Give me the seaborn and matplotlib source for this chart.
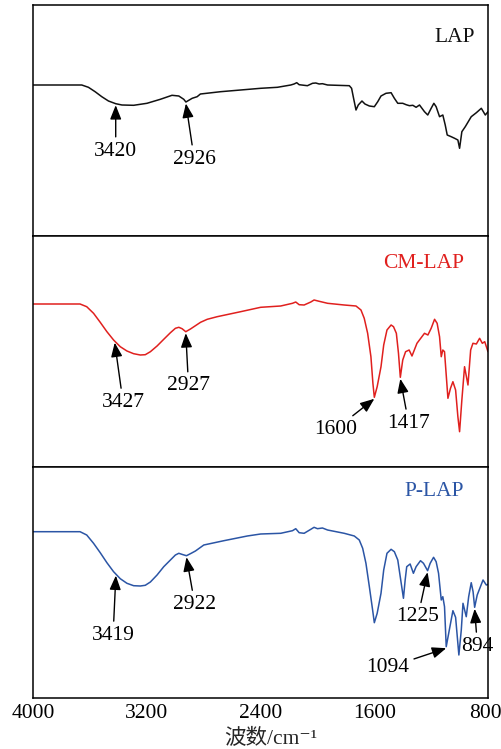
import numpy as np
import pandas as pd
import matplotlib
matplotlib.use("Agg")
import matplotlib.pyplot as plt
import matplotlib.transforms as mtransforms
import seaborn as sns

# ---- FTIR spectra (wavenumber in cm-1, relative transmittance in arbitrary units) ----
lap_wn = [4000, 3659, 3612, 3565, 3518, 3471, 3420, 3376, 3294, 3200, 3106, 3024,
          2976, 2941, 2926, 2882, 2847, 2824, 2682, 2400, 2282, 2188, 2165, 2146,
          2129, 2094, 2071, 2035, 2012, 1988, 1965, 1929, 1776, 1760, 1746, 1729,
          1713, 1687, 1666, 1635, 1600, 1576, 1553, 1518, 1482, 1459, 1435, 1400,
          1376, 1353, 1329, 1306, 1282, 1247, 1224, 1200, 1181, 1165, 1141, 1118,
          1101, 1087, 1059, 1035, 1012, 1000, 984, 960, 918, 882, 847, 819, 800]
lap_t = [151, 151, 148.7, 144.3, 139.3, 135, 132.3, 131, 130.7, 132.7, 136.7, 140.7,
         140, 136.7, 134, 137.7, 139.3, 142, 144.3, 147.7, 148.7, 151, 152, 153.3,
         151.3, 150.7, 150.3, 152.7, 153, 152, 152.3, 151, 150.3, 147.7, 137.7, 126,
         131, 135, 132, 130, 129.3, 134.3, 140, 142.7, 143.3, 137.7, 132.7, 132.7,
         131.3, 130.3, 130.7, 128.7, 131, 124.3, 121, 127.7, 132.7, 129.3, 119.3, 121,
         111, 101, 99.3, 97.7, 96, 87.7, 104.3, 109.3, 119.3, 123.3, 127.7, 121, 124.3]

cm_wn = [4000, 3671, 3624, 3576, 3529, 3482, 3435, 3388, 3341, 3294, 3247, 3212,
         3176, 3129, 3082, 3035, 3000, 2976, 2953, 2927, 2894, 2859, 2823, 2776,
         2706, 2541, 2400, 2259, 2176, 2153, 2129, 2094, 2047, 2024, 1988, 1929,
         1812, 1729, 1694, 1671, 1647, 1624, 1610, 1600, 1580, 1553, 1534, 1511,
         1482, 1465, 1445, 1430, 1417, 1400, 1380, 1355, 1335, 1300, 1247, 1223,
         1200, 1176, 1158, 1141, 1129, 1118, 1106, 1082, 1064, 1047, 1028, 1012,
         1000, 984, 965, 941, 922, 906, 882, 859, 840, 823, 800]
cm_t = [163, 163, 160.3, 153.7, 144.7, 135.3, 127, 120.3, 116, 113.3, 112, 112.3,
        115.3, 121, 127.7, 134.3, 138.7, 139.7, 138.3, 135.3, 138, 141.3, 144.7, 147.7,
        150.3, 155.3, 159.7, 161, 163.7, 165, 162.3, 162, 165, 167, 165.7, 163.7,
        162, 161, 157, 148.7, 133.7, 110.3, 83.7, 69.7, 80.3, 100.3, 122, 137,
        142, 140.3, 133.7, 113.7, 89.7, 107, 115.3, 117, 111, 123.7, 133.7, 132,
        138.7, 147.7, 143.7, 130.3, 110.3, 117, 115.3, 68.7, 78.7, 85.3, 77, 50.3,
        35.3, 67, 100.3, 82, 117, 123.7, 123, 128.7, 123.7, 125.3, 115.3]

p_wn = [4000, 3671, 3624, 3576, 3529, 3482, 3435, 3388, 3341, 3294, 3247, 3212,
        3176, 3129, 3082, 3035, 3000, 2976, 2946, 2922, 2889, 2859, 2800, 2659,
        2494, 2400, 2259, 2176, 2153, 2129, 2094, 2047, 2024, 2000, 1965, 1929,
        1812, 1741, 1706, 1682, 1659, 1635, 1612, 1600, 1580, 1553, 1534, 1511,
        1482, 1459, 1435, 1416, 1395, 1383, 1372, 1348, 1325, 1306, 1275, 1254,
        1225, 1207, 1183, 1165, 1148, 1129, 1118, 1106, 1094, 1068, 1047, 1028,
        1005, 988, 976, 953, 936, 918, 905, 894, 876, 835, 812, 800]
p_t = [166.3, 166.3, 163, 154.7, 145.3, 135.3, 126.3, 119.3, 114.7, 112.3, 112, 112.7,
       116, 123, 131.3, 138, 143, 144.7, 143.3, 142.3, 144.7, 147, 153, 157.3,
       162, 164, 164.7, 167.3, 169.3, 165.3, 164.7, 168.7, 170.7, 169.3, 170, 168,
       164.7, 162, 158, 149.7, 134.7, 111.3, 88, 75.3, 84.7, 104.7, 128, 144.7,
       148.7, 146.3, 138, 119.7, 99.7, 118, 131.3, 134, 124.7, 131.3, 137.3, 134.7,
       127.3, 134.7, 140.7, 136.3, 124.7, 98, 101.3, 91.3, 51.3, 71.3, 87.3, 80.7,
       43, 68, 94.7, 81.3, 101.3, 115.3, 106.3, 90.7, 103, 118, 113, 113.6]

sample_names = ["LAP", "CM-LAP", "P-LAP"]
line_colors = ["#111111", "#E0201E", "#2B55A5"]

# Marked bands per spectrum: wavenumber labels
lap_marks = [3420, 2926]
cm_marks = [3427, 2927, 1600, 1417]
p_marks = [3419, 2922, 1225, 1094, 894]

# Label offsets from the arrow tip (points)
lap_offsets = [(0, -33), (6, -40)]
cm_offsets = [(6, -43), (2, -38), (-28, -22), (6, -32)]
p_offsets = [(-2, -43), (6, -34), (-7, -32), (-42, -14), (2, -27)]

x_ticks = [4000, 3200, 2400, 1600, 800]

sns.set_style("white")
plt.rcParams["font.family"] = ["Liberation Serif", "Noto Sans CJK SC", "DejaVu Sans"]

W, H = 502, 749
fig = plt.figure(figsize=(W / 100, H / 100), dpi=100)

left, right = 33.3 / W, 488.0 / W
panel_px = [(5, 236), (236, 467), (467, 698)]
label_pos = [(0.927, 0.861), (0.859, 0.879), (0.881, 0.892)]

spectra = [(lap_wn, lap_t), (cm_wn, cm_t), (p_wn, p_t)]
marks = [lap_marks, cm_marks, p_marks]
offsets = [lap_offsets, cm_offsets, p_offsets]

for i, ((wn, t), name, color) in enumerate(zip(spectra, sample_names, line_colors)):
    top_px, bot_px = panel_px[i]
    ax = fig.add_axes([left, 1 - bot_px / H, right - left, (bot_px - top_px) / H])
    df = pd.DataFrame({"wavenumber": wn, "T": t})
    sns.lineplot(data=df, x="wavenumber", y="T", ax=ax, color=color,
                 linewidth=1.1, estimator=None, sort=True)
    ax.set_xlim(4000, 800)
    ax.set_ylim(0, bot_px - top_px)
    ax.set_yticks([])
    ax.set_ylabel("")
    for sp in ax.spines.values():
        sp.set_color("black")
        sp.set_linewidth(1.1)
    if i < 2:
        ax.set_xticks([])
        ax.set_xlabel("")
    else:
        ax.set_xticks(x_ticks)
        ax.set_xticklabels([str(v) for v in x_ticks])
        ax.tick_params(axis="x", direction="in", length=4, width=1.0,
                       labelsize=15.5, pad=4, colors="black")
        # keep the right-most tick label inside the canvas
        last = ax.get_xticklabels()[-1]
        last.set_transform(last.get_transform() +
                           mtransforms.ScaledTranslation(-3 / 100, 0, fig.dpi_scale_trans))
        ax.set_xlabel("波数/cm⁻¹", fontsize=15.5)
        ax.xaxis.set_label_coords((271 - 33.3) / 455, -0.134)
    ax.text(label_pos[i][0], label_pos[i][1], name, transform=ax.transAxes,
            ha="center", va="center", fontsize=15.5, color=color)

    wn_sorted = np.array(wn[::-1], dtype=float)
    t_sorted = np.array(t[::-1], dtype=float)
    for m, off in zip(marks[i], offsets[i]):
        y_tip = np.interp(m, wn_sorted, t_sorted) - 1.5
        ax.annotate(str(m), xy=(m, y_tip), xytext=off, textcoords="offset points",
                    ha="center", va="center", fontsize=15.5, color="black",
                    arrowprops=dict(arrowstyle="-|>,head_length=0.55,head_width=0.22",
                                    color="black", lw=1.0, shrinkA=1, shrinkB=0))

fig.savefig("out.png", dpi=100)
